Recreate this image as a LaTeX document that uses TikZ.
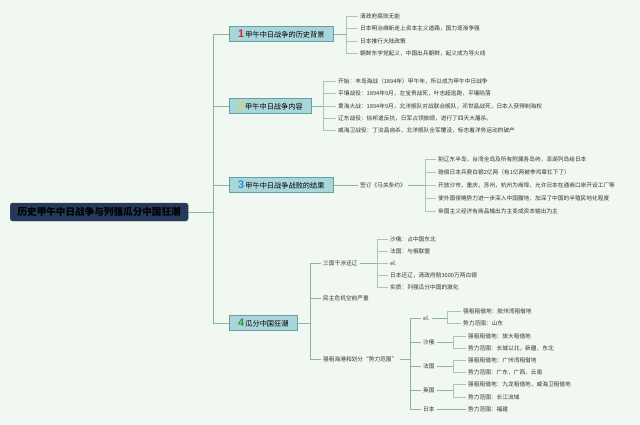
\documentclass[tikz,border=0pt]{standalone}
\usepackage{fontspec}
\setmainfont{Noto Sans CJK SC}
\newfontfamily\numfont{Liberation Sans}
\definecolor{bgc}{HTML}{F1F8F1}
\definecolor{lnc}{HTML}{86B3A2}
\definecolor{leafln}{HTML}{A7C6B8}
\definecolor{topicfill}{HTML}{A9D6DA}
\definecolor{topicdraw}{HTML}{62A0A6}
\definecolor{rootfill}{HTML}{24395B}
\definecolor{cred}{HTML}{D9242B}
\definecolor{cyel}{HTML}{F0D44A}
\definecolor{cblue}{HTML}{2A8FD8}
\definecolor{cgreen}{HTML}{2E9A3C}
\definecolor{txt}{HTML}{333333}
\newcommand\tnum[2]{{\numfont\bfseries\fontsize{11}{11}\selectfont\color{#1}#2}}
\begin{document}
\begin{tikzpicture}[x=1pt,y=-1pt,
  leaf/.style={anchor=west, inner xsep=2pt, inner ysep=1pt, text=txt, font=\fontsize{5.7}{6.5}\selectfont},
  topic/.style={anchor=west, draw=topicdraw, fill=topicfill, line width=0.6pt, minimum height=15pt, inner xsep=3pt, inner ysep=1pt, text=black, font=\fontsize{7.2}{8}\selectfont},
  rootbox/.style={anchor=west, draw=black!70, fill=rootfill, rounded corners=2.5pt, minimum height=18pt, minimum width=178pt, text=black, font=\bfseries\fontsize{9.6}{11}\selectfont},
  ln/.style={draw=lnc, line width=0.6pt},
  lf/.style={draw=leafln, line width=0.5pt}]
\fill[bgc] (0,0) rectangle (640,425);
\useasboundingbox (0,0) rectangle (640,425);

% root
\node[rootbox] (root) at (10,212) {历史甲午中日战争与列强瓜分中国狂潮};
\coordinate (rb) at (213,212);

% topics
\node[topic, minimum width=104pt] (tp1) at (229,34) {\tnum{cred}{1}\,甲午中日战争的历史背景};
\node[topic, minimum width=82pt] (tp2) at (229,106) {\tnum{cyel}{2}\,甲午中日战争内容};
\node[topic, minimum width=104pt] (tp3) at (229,185) {\tnum{cblue}{3}\,甲午中日战争战败的结果};
\node[topic, minimum width=68pt] (tp4) at (229,323) {\tnum{cgreen}{4}\,瓜分中国狂潮};

\draw[ln] (root.east) -- (rb);
\foreach \t in {tp1,tp2,tp3,tp4} \draw[ln] (rb) |- (\t.west);

% topic 1
\coordinate (b1) at (346,34);
\node[leaf] (a1) at (358,16) {清政府腐败无能};
\node[leaf] (a2) at (358,28) {日本明治维新走上资本主义道路，国力逐渐争强};
\node[leaf] (a3) at (358,41) {日本推行大陆政策};
\node[leaf] (a4) at (358,53) {朝鲜东学党起义，中国出兵朝鲜，起义成为导火线};
\draw[ln] (tp1.east) -- (b1);
\foreach \n in {a1,a2,a3,a4} \draw[lf] (b1) |- (\n.west);

% topic 2
\coordinate (b2) at (323,106);
\node[leaf] (e1) at (336,81) {开始：丰岛海战（1894年）甲午年，所以成为甲午中日战争};
\node[leaf] (e2) at (336,93) {平壤战役：1894年9月，左宝贵战死，叶志超逃跑，平壤陷落};
\node[leaf] (e3) at (336,106) {黄海大战：1894年9月，北洋舰队对战联合舰队，邓世昌战死，日本人获得制海权};
\node[leaf] (e4) at (336,118) {辽东战役：徐邦道反抗，日军占领旅顺，进行了四天大屠杀。};
\node[leaf] (e5) at (336,130) {威海卫战役：丁汝昌自杀，北洋舰队全军覆没，标志着洋务运动的破产};
\draw[ln] (tp2.east) -- (b2);
\foreach \n in {e1,e2,e3,e4,e5} \draw[lf] (b2) |- (\n.west);

% topic 3
\node[leaf] (s3) at (358,185) {签订《马关条约》};
\draw[ln] (tp3.east) -- (s3.west);
\coordinate (b3) at (425,185);
\node[leaf] (r1) at (436,159) {割辽东半岛，台湾全岛及所有附属各岛屿，澎湖列岛给日本};
\node[leaf] (r2) at (436,172) {赔偿日本兵费白银2亿两（有1亿两被李鸿章扛下了）};
\node[leaf] (r3) at (436,185) {开放沙市，重庆，苏州，杭州为商埠，允许日本在通商口岸开设工厂等};
\node[leaf] (r4) at (436,198) {使外国侵略势力进一步深入中国腹地，加深了中国的半殖民地化程度};
\node[leaf] (r5) at (436,211) {帝国主义经济有商品输出为主变成资本输出为主};
\draw[ln] (s3.east) -- (b3);
\foreach \n in {r1,r2,r3,r4,r5} \draw[lf] (b3) |- (\n.west);

% topic 4
\coordinate (b4) at (310,323);
\node[leaf] (g1) at (321,263) {三国干涉还辽};
\node[leaf] (g2) at (321,298) {民主危机空前严重};
\node[leaf] (g3) at (321,359) {强租海港和划分“势力范围”};
\draw[ln] (tp4.east) -- (b4);
\foreach \n in {g1,g2,g3} \draw[ln] (b4) |- (\n.west);

% 三国干涉还辽
\coordinate (b41) at (377,263);
\node[leaf] (h1) at (388,239) {沙俄：占中国东北};
\node[leaf] (h2) at (388,251) {法国：与俄联盟};
\node[leaf] (h3) at (388,263) {el.};
\node[leaf] (h4) at (388,275) {日本还辽，清政府赔3000万两白银};
\node[leaf] (h5) at (388,287) {实质：列强瓜分中国的激化};
\draw[ln] (g1.east) -- (b41);
\foreach \n in {h1,h2,h3,h4,h5} \draw[lf] (b41) |- (\n.west);

% 强租海港
\coordinate (b43) at (410,359);
\node[leaf] (k1) at (421,318) {el.};
\node[leaf] (k2) at (421,342) {沙俄};
\node[leaf] (k3) at (421,366) {法国};
\node[leaf] (k4) at (421,390) {英国};
\node[leaf] (k5) at (421,409) {日本};
\draw[ln] (g3.east) -- (b43);
\foreach \n in {k1,k2,k3,k4,k5} \draw[ln] (b43) |- (\n.west);

\coordinate (d1) at (447,318);
\node[leaf] (m1) at (461,311) {强租租借地：胶州湾租借地};
\node[leaf] (m2) at (461,323) {势力范围：山东};
\draw[ln] (k1.east) -- (d1);
\foreach \n in {m1,m2} \draw[lf] (d1) |- (\n.west);

\coordinate (d2) at (453,342);
\node[leaf] (n1) at (466,336) {强租租借地：旅大租借地};
\node[leaf] (n2) at (466,348) {势力范围：长城以北，新疆，东北};
\draw[ln] (k2.east) -- (d2);
\foreach \n in {n1,n2} \draw[lf] (d2) |- (\n.west);

\coordinate (d3) at (453,366);
\node[leaf] (p1) at (466,360) {强租租借地：广州湾租借地};
\node[leaf] (p2) at (466,372) {势力范围：广东，广西，云南};
\draw[ln] (k3.east) -- (d3);
\foreach \n in {p1,p2} \draw[lf] (d3) |- (\n.west);

\coordinate (d4) at (453,390);
\node[leaf] (q1) at (466,384) {强租租借地：九龙租借地，威海卫租借地};
\node[leaf] (q2) at (466,397) {势力范围：长江流域};
\draw[ln] (k4.east) -- (d4);
\foreach \n in {q1,q2} \draw[lf] (d4) |- (\n.west);

\node[leaf] (u1) at (466,409) {势力范围：福建};
\draw[ln] (k5.east) -- (u1.west);
\end{tikzpicture}
\end{document}
